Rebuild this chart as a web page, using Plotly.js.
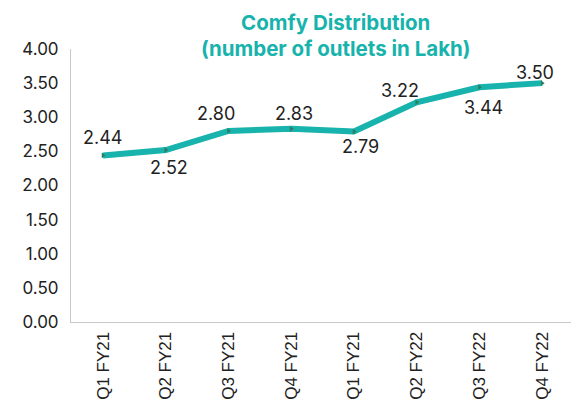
<!DOCTYPE html>
<html>
<head>
<meta charset="utf-8">
<script src="https://cdn.plot.ly/plotly-3.0.1.min.js"></script>
<style>html,body{margin:0;padding:0;background:#fff;}#chart{width:571px;height:401px;}</style>
</head>
<body>
<div id="chart"></div>
<script>
const quarters = ["Q1 FY21","Q2 FY21","Q3 FY21","Q4 FY21","Q1 FY21","Q2 FY22","Q3 FY22","Q4 FY22"];
const outlets = [2.44, 2.52, 2.80, 2.83, 2.79, 3.22, 3.44, 3.50];
const yTicks = [0, 0.5, 1, 1.5, 2, 2.5, 3, 3.5, 4];

// label offsets in pixels (styling only)
const labelDx = [0, 3, -12, 3, 7, -17, 4, -7];
const labelDy = [18, -17, 17, 15, -15, 12, -20, 11];

const idx = quarters.map((q, i) => i);
const teal = "#17B3AC";

const trace = {
  x: idx,
  y: outlets,
  type: "scatter",
  mode: "lines+markers",
  line: {color: teal, width: 6},
  marker: {symbol: "triangle-right", size: 5, color: "#2E7D60"},
  cliponaxis: false,
  hoverinfo: "skip"
};

const annotations = outlets.map((v, i) => ({
  x: idx[i], y: v, xref: "x", yref: "y",
  text: v.toFixed(2),
  showarrow: false,
  xanchor: "center", yanchor: "middle",
  xshift: labelDx[i], yshift: labelDy[i],
  font: {family: "Inter, 'Noto Sans', sans-serif", size: 18, color: "#222"}
}));

const layout = {
  width: 571,
  height: 401,
  margin: {l: 71, r: 0, t: 49, b: 79},
  paper_bgcolor: "#fff",
  plot_bgcolor: "#fff",
  showlegend: false,
  annotations: annotations,
  title: {
    text: "<b>Comfy Distribution<br>(number of outlets in Lakh)</b>",
    font: {family: "Inter, 'Noto Sans', sans-serif", size: 20.5, color: teal},
    xref: "container", yref: "container",
    x: 0.588, xanchor: "center",
    y: 0.926, yanchor: "middle"
  },
  xaxis: {
    range: [-0.51, 7.46],
    tickmode: "array",
    tickvals: idx,
    ticktext: quarters,
    tickangle: -90,
    showgrid: false,
    zeroline: false,
    showline: true,
    linecolor: "#c8c8c8",
    linewidth: 1,
    ticks: "",
    tickfont: {family: "'Liberation Sans', Arial, sans-serif", size: 17, color: "#222"},
    ticklabelstandoff: 2
  },
  yaxis: {
    range: [0, 4],
    tickmode: "array",
    tickvals: yTicks,
    ticktext: yTicks.map(v => v.toFixed(2)),
    showgrid: false,
    zeroline: false,
    showline: true,
    linecolor: "#c8c8c8",
    linewidth: 1,
    ticks: "",
    tickfont: {family: "Inter, 'Noto Sans', sans-serif", size: 17, color: "#222"},
    ticklabelstandoff: 8
  }
};

Plotly.newPlot("chart", [trace], layout, {displayModeBar: false, staticPlot: true});
</script>
</body>
</html>
